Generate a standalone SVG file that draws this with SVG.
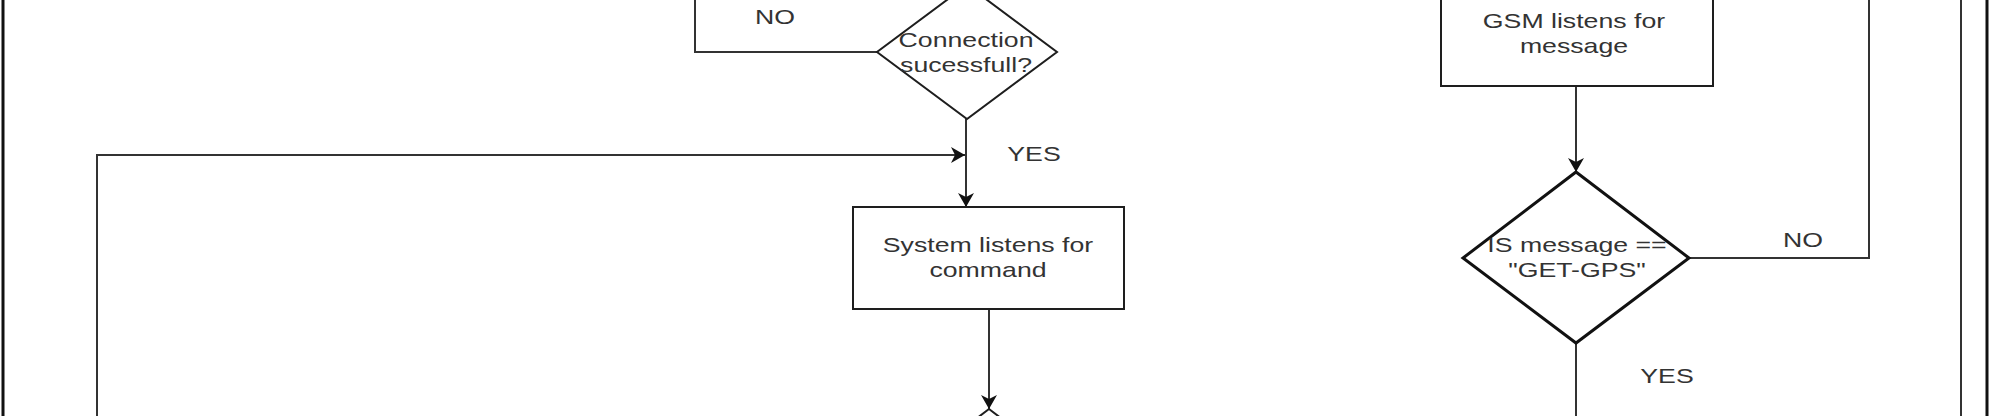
<svg xmlns="http://www.w3.org/2000/svg" width="1989" height="416" viewBox="0 0 1989 416">
<style>
.shape{fill:#fff;stroke:#1e1e1e;stroke-width:2}
.thick{stroke-width:3;stroke:#111}
.conn{fill:none;stroke:#333;stroke-width:2}
.lbl{font-family:"Liberation Sans",Arial,sans-serif;font-size:21px;fill:#333;text-anchor:middle}
.frame{stroke:#111;stroke-width:3}
</style>
<defs>
<marker id="arr" markerUnits="userSpaceOnUse" markerWidth="18" markerHeight="18" refX="14" refY="8" orient="auto">
<path d="M0,0 L14,8 L0,16 L4,8 Z" fill="#111"/>
</marker>
</defs>
<rect x="0" y="0" width="1989" height="416" fill="#fff"/>
<g id="frame">
<line class="frame" x1="3" y1="0" x2="3" y2="416"/>
<line class="frame" x1="1987" y1="0" x2="1987" y2="416"/>
</g>
<g id="connectors">
<path class="conn" d="M877,52 H695 V-5"/>
<path class="conn" d="M966,119 V207" marker-end="url(#arr)"/>
<path class="conn" d="M97,420 V155 H965" marker-end="url(#arr)"/>
<path class="conn" d="M989,309 V409" marker-end="url(#arr)"/>
<path class="conn" d="M1576,86 V172" marker-end="url(#arr)"/>
<path class="conn" d="M1689,258 H1869 V-5"/>
<path class="conn" d="M1576,343 V420"/>
<path class="conn" d="M1961,-5 V420"/>
<text class="lbl" transform="translate(775 24) scale(1.27 1)">NO</text>
<text class="lbl" transform="translate(1034 161) scale(1.27 1)">YES</text>
<text class="lbl" transform="translate(1803 247) scale(1.27 1)">NO</text>
<text class="lbl" transform="translate(1667 383) scale(1.27 1)">YES</text>
</g>
<g id="connection-check">
<polygon class="shape" points="967,-15 1057,52 967,119 877,52"/>
<text class="lbl" transform="translate(966 0) scale(1.27 1)"><tspan x="0" y="47">Connection</tspan><tspan x="0" y="72">sucessfull?</tspan></text>
</g>
<g id="system-listens">
<rect class="shape" x="853" y="207" width="271" height="102"/>
<text class="lbl" transform="translate(988 0) scale(1.27 1)"><tspan x="0" y="252">System listens for</tspan><tspan x="0" y="277">command</tspan></text>
</g>
<g id="next-decision">
<polygon class="shape" points="989,409 1102,495 989,581 876,495"/>
</g>
<g id="gsm-listens">
<rect class="shape" x="1441" y="-18" width="272" height="104"/>
<text class="lbl" transform="translate(1574 0) scale(1.27 1)"><tspan x="0" y="28">GSM listens for</tspan><tspan x="0" y="53">message</tspan></text>
</g>
<g id="is-get-gps">
<polygon class="shape thick" points="1576,172 1689,258 1576,343 1463,258"/>
<text class="lbl" transform="translate(1577 0) scale(1.27 1)"><tspan x="0" y="252">IS message ==</tspan><tspan x="0" y="277">"GET-GPS"</tspan></text>
</g>
</svg>
